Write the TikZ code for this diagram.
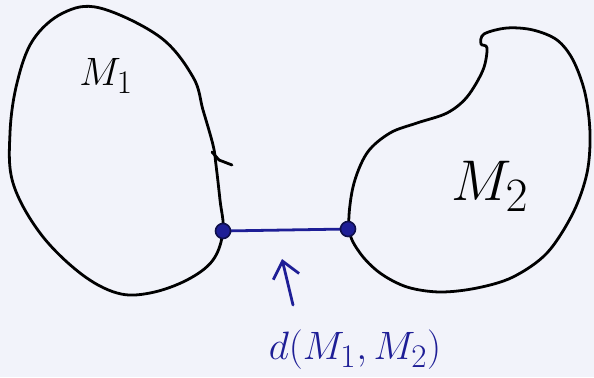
\documentclass[tikz,border=0pt]{standalone}
\usetikzlibrary{arrows.meta}
\definecolor{paper}{RGB}{242,243,250}
\definecolor{ink}{RGB}{30,30,150}
\tikzset{
  setline/.style={line width=2.1pt, line join=round, line cap=round},
  inkline/.style={ink, line width=2.1pt, line cap=round},
  endpt/.style={fill=ink, draw=ink!50!black, line width=1.2pt},
  bigtext/.style={font=\fontsize{30}{34}\selectfont, scale=1.2}
}
\begin{document}
\begin{tikzpicture}[x=0.0265cm,y=-0.0265cm,>={Straight Barb[length=12pt,width=20pt]}]
	\fill[paper] (0,0) rectangle (594,377);
	\useasboundingbox (0,0) rectangle (594,377);
	% first set
	\draw[setline] plot[smooth cycle, tension=0.6] coordinates {(100,8) (160,37) (193,77) (203,110) (213,145) (216,165) (220,200) (223,231) (213,260) (187,280) (150,293) (117,293) (80,273) (40,233) (13,183) (10,133) (17,83) (33,40) (63,13)};
	\draw[setline] (212,152) -- (219,160) -- (232,165);
	% second set
	\draw[setline] plot[smooth cycle, tension=0.55] coordinates {(349,229) (353,187) (367,153) (390,133) (417,123) (447,113) (467,97) (483,70) (487,48) (481,44) (484,34) (507,28) (533,30) (557,40) (573,60) (585,93) (590,133) (587,173) (573,213) (547,253) (513,277) (477,288) (440,292) (407,287) (380,273) (360,253)};
	\node[bigtext] (m1) at (106,76) {$M_1$};
	\node[bigtext, scale=1.45] (m2) at (490,186) {$M_2$};
	% closest points
	\coordinate (p1) at (223,231);
	\coordinate (p2) at (348,229);
	\draw[inkline] (p1) -- (p2);
	\filldraw[endpt] (p1) circle (7.5);
	\filldraw[endpt] (p2) circle (7.5);
	\coordinate (tail) at (293,305);
	\coordinate (head) at (282,259);
	\draw[inkline,->] (tail) -- (head);
	\node[bigtext, ink] (dist) at (355,350) {$d(M_1,M_2)$};
\end{tikzpicture}
\end{document}
